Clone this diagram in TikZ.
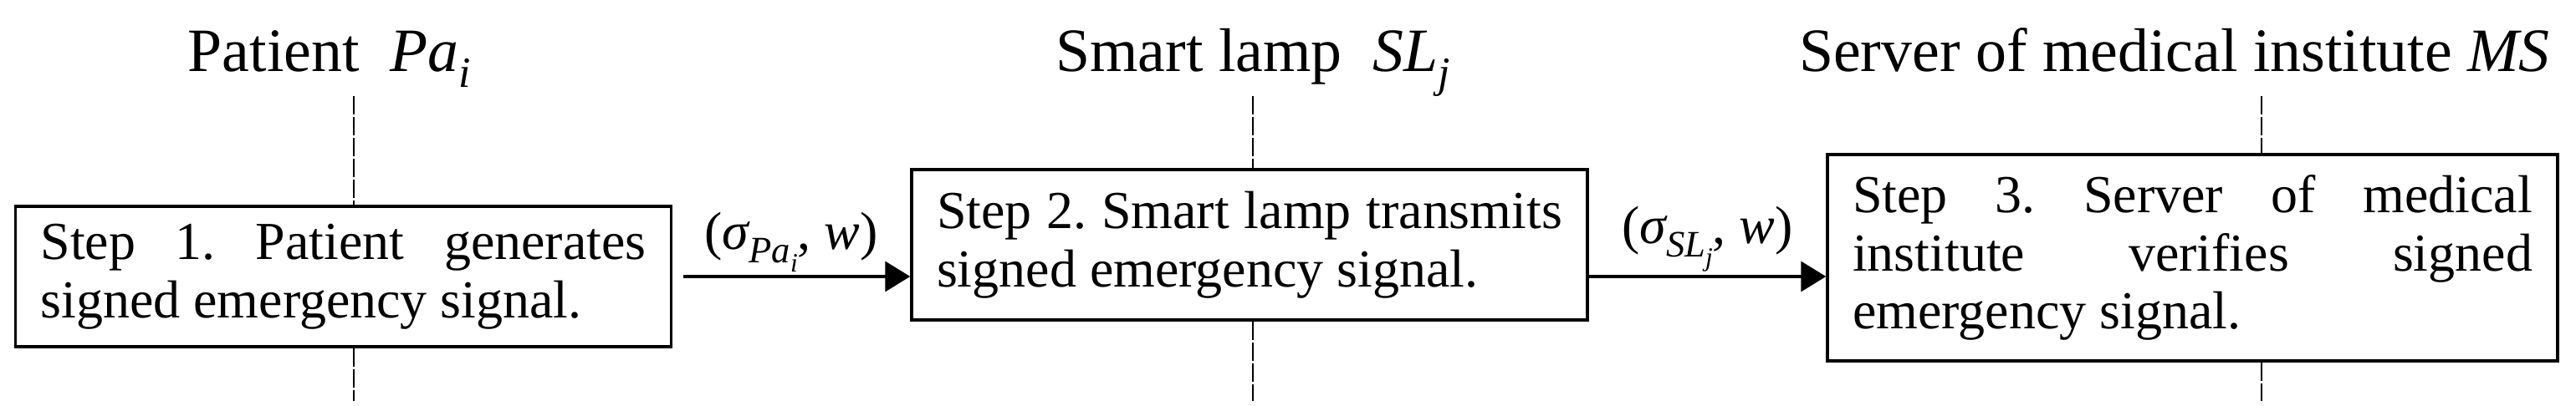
\documentclass[tikz,border=0pt]{standalone}
\usepackage{fontspec}
\setmainfont{Liberation Serif}
\usepackage{tikz}
\usetikzlibrary{arrows.meta,positioning}
\hyphenpenalty=10000
\tolerance=9999
\frenchspacing
\newcommand{\lowtext}[2]{\raisebox{-0.25em}{\fontsize{#1}{#1}\selectfont #2}}

\tikzset{
  stepbox/.style={draw, line width=1pt, inner xsep=0.3cm, align=justify,
    font=\fontsize{18.2}{19.8}\selectfont},
  lifeline/.style={line width=0.8pt, dash pattern=on 0.22cm off 0.03cm},
  msg/.style={line width=1pt, -{Triangle[length=0.3cm,width=0.36cm]}},
  actor/.style={font=\fontsize{21}{25}\selectfont, anchor=base},
  msglabel/.style={font=\fontsize{18.2}{20}\selectfont, above, inner sep=0.04cm}
}

\begin{document}
\begin{tikzpicture}
    \useasboundingbox (0,0) rectangle (30.8,4.86);

    % participants
    \node[actor] (pa) at (3.94,4.0) {Patient~~\textit{Pa\lowtext{14.7}{i}}};
    \node[actor] (sl) at (14.98,4.0) {Smart lamp~~\textit{SL\lowtext{14.7}{j}}};
    \node[actor] (ms) at (26.0,4.0) {Server of medical institute \textit{MS}};

    % steps
    \node[stepbox, text width=7.24cm, minimum height=1.68cm] (step1) at (4.105,1.55)
    {Step 1. Patient generates signed emergency signal.};
    \node[stepbox, text width=7.48cm, minimum height=1.80cm] (step2) at (14.94,1.93)
    {Step 2. Smart lamp transmits signed emergency signal.};
    \node[stepbox, text width=8.13cm, minimum height=2.47cm] (step3) at (26.215,1.775)
    {Step 3. Server of medical institute verifies signed emergency signal.};

    % lifelines
    \coordinate (pa top) at (4.23,3.71);
    \coordinate (pa end) at (4.23,0.06);
    \coordinate (sl top) at (14.98,3.71);
    \coordinate (sl end) at (14.98,0.06);
    \coordinate (ms top) at (27.04,3.71);
    \coordinate (ms end) at (27.04,0.06);
    \draw[lifeline] (pa top) -- (pa top |- step1.north);
    \draw[lifeline] (pa end |- step1.south) -- (pa end);
    \draw[lifeline] (sl top) -- (sl top |- step2.north);
    \draw[lifeline] (sl end |- step2.south) -- (sl end);
    \draw[lifeline] (ms top) -- (ms top |- step3.north);
    \draw[lifeline] (ms end |- step3.south) -- (ms end);

    % messages
    \draw[msg, shorten <=0.13cm] (step1.east) -- (step1.east -| step2.west)
    node[msglabel, midway] {(\textit{σ\lowtext{12.7}{Pa\lowtext{9}{i}}}, \textit{w})};
    \draw[msg] (step1.east -| step2.east) -- (step1.east -| step3.west)
    node[msglabel, midway] {(\textit{σ\lowtext{12.7}{SL\lowtext{9}{j}}}, \textit{w})};

\end{tikzpicture}
\end{document}
